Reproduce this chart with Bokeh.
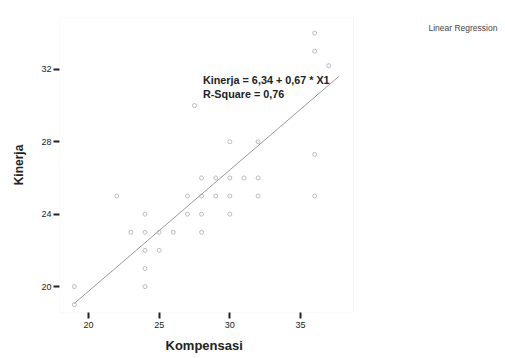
from bokeh.plotting import figure
from bokeh.models import Label, Range1d, FixedTicker, ColumnDataSource, BoxAnnotation, Title
from bokeh.embed import file_html
from bokeh.resources import INLINE

# Data
kompensasi = [19, 19, 22, 23, 24, 24, 24, 24, 24, 25, 25, 26, 27, 27, 28, 28, 28, 28,
              29, 29, 30, 30, 30, 31, 32, 32, 30, 32, 36, 36, 36, 36, 37, 27.5]
kinerja = [19, 20, 25, 23, 24, 23, 22, 21, 20, 23, 22, 23, 25, 24, 26, 25, 24, 23,
           26, 25, 26, 25, 24, 26, 26, 25, 28, 28, 25, 27.3, 34, 33, 32.2, 30]
intercept = 6.34
slope = 0.67
line_x = [19, 37.7]
x_ticks = [20, 25, 30, 35]
y_ticks = [20, 24, 28, 32]

# visible plotting box (in data units)
X_MIN, X_MAX = 17.95, 38.75
Y_MIN, Y_MAX = 18.57, 34.86

FONT = "Liberation Sans"

# the frame spans to the right edge so the "Linear Regression" caption is drawable
p = figure(width=505, height=358, output_backend="svg", toolbar_location=None,
           x_range=Range1d(X_MIN, X_MIN + (X_MAX - X_MIN) * 446 / 294),
           y_range=Range1d(Y_MIN, Y_MAX),
           min_border_left=59, min_border_right=0, min_border_top=17, min_border_bottom=46)

p.background_fill_color = "white"
p.border_fill_color = "white"
p.outline_line_color = None
p.xgrid.visible = False
p.ygrid.visible = False

p.add_layout(BoxAnnotation(left=X_MIN, right=X_MAX, bottom=Y_MIN, top=Y_MAX,
                           fill_color=None, line_color="#c4c4c4", line_dash="1 1",
                           line_width=1))

for ax, ticks in ((p.xaxis, x_ticks), (p.yaxis, y_ticks)):
    ax.ticker = FixedTicker(ticks=ticks)
    ax.minor_tick_line_color = None
    ax.axis_line_color = None
    ax.major_tick_line_color = "#222222"
    ax.major_tick_line_width = 2
    ax.major_tick_out = 6
    ax.major_tick_in = 0
    ax.major_label_text_font = FONT
    ax.major_label_text_font_size = "9px"
    ax.major_label_text_color = "#222222"
    ax.axis_label_text_font = FONT
    ax.axis_label_text_font_style = "bold"
    ax.axis_label_text_color = "#222222"

p.xaxis.major_label_standoff = 3
p.yaxis.axis_label = "Kinerja"
p.yaxis.axis_label_text_font_size = "12px"
p.yaxis.major_label_standoff = 2
p.yaxis.axis_label_standoff = 12

# x-axis caption, centred under the visible box
p.add_layout(Title(text="Kompensasi", align="left", offset=106, standoff=10,
                   text_font=FONT, text_font_size="13px", text_font_style="bold",
                   text_color="#222222"), "below")

src = ColumnDataSource(dict(x=kompensasi, y=kinerja))
p.scatter("x", "y", source=src, marker="circle", size=4, line_color="#bdbdbd",
          fill_color=None, line_width=1)

line_y = [intercept + slope * v for v in line_x]
p.line(line_x, line_y, line_color="#9a9a9a", line_width=1)

p.add_layout(Label(x=28.1, y=31.1, text="Kinerja = 6,34 + 0,67 * X1", text_font=FONT,
                   text_font_size="10.8px", text_font_style="bold", text_color="#222222"))
p.add_layout(Label(x=28.1, y=30.3, text="R-Square = 0,76", text_font=FONT,
                   text_font_size="10.8px", text_font_style="bold", text_color="#222222"))
p.add_layout(Label(x=44.05, y=34.0, text="Linear Regression", text_font=FONT,
                   text_font_size="8.5px", text_color="#444444"))

open("out.html", "w").write(file_html(p, INLINE))
